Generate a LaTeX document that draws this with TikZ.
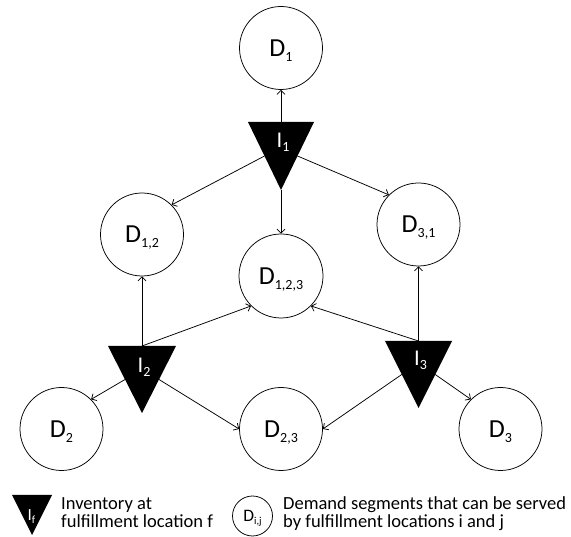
\documentclass[tikz,border=0pt]{standalone}
\usepackage{fontspec}
\setmainfont{Carlito}
\usetikzlibrary{arrows.meta}

% lowered, smaller subscript: #1 drop, #2 size, #3 text
\newcommand{\subs}[3]{\raisebox{-#1}{\fontsize{#2}{#2}\selectfont #3}}

% filled triangle pointing down; #1 name, (#2,#3) middle of top edge, #4 width, #5 height
\newcommand{\invtri}[5]{%
  \begin{scope}[shift={(#2,#3)}]
    \fill[black] (-#4/2,0) -- (#4/2,0) -- (0,#5) -- cycle;
    \coordinate (#1-top) at (0,0);
    \coordinate (#1-tip) at (0,#5);
    \coordinate (#1-left) at (-#4/4,#5/2);
    \coordinate (#1-right) at (#4/4,#5/2);
  \end{scope}}

\tikzset{
  demand/.style={circle, draw, line width=0.75pt, minimum size=83pt, inner sep=0pt,
    font=\fontsize{26}{26}\selectfont, text height=17pt, text depth=0pt},
  flow/.style={line width=0.75pt, -{Straight Barb[length=4pt,width=8pt]}},
  invlabel/.style={text=white, anchor=base, inner sep=0pt, font=\fontsize{22.5}{22.5}\selectfont},
  legendtext/.style={anchor=base west, inner sep=0pt, font=\fontsize{18.5}{18.5}\selectfont},
}

\begin{document}
\begin{tikzpicture}[x=1pt, y=-1pt]
\useasboundingbox (0,0) rectangle (571,537);

% demand segments
\node[demand] (D1)   at (281,48)    {D\subs{5pt}{14}{1}};
\node[demand] (D12)  at (142,234.5) {D\subs{5pt}{14}{1,2}};
\node[demand] (D31)  at (418.5,224.5) {D\subs{5pt}{14}{3,1}};
\node[demand, minimum size=84pt] (D123) at (281,276) {D\subs{5pt}{14}{1,2,3}};
\node[demand] (D2)   at (61.5,429)  {D\subs{5pt}{14}{2}};
\node[demand] (D23)  at (281,429)   {D\subs{5pt}{14}{2,3}};
\node[demand] (D3)   at (500.5,429) {D\subs{5pt}{14}{3}};

% inventory locations
\invtri{I1}{281}{122}{66}{68}
\invtri{I2}{142}{346}{68}{67}
\invtri{I3}{418.5}{341}{67}{67}
\node[invlabel] (I1lab) at (283,148) {I\subs{4pt}{14}{1}};
\node[invlabel] (I2lab) at (144,373) {I\subs{4pt}{14}{2}};
\node[invlabel] (I3lab) at (420.5,366) {I\subs{4pt}{14}{3}};

% flows from inventory to demand
\draw[flow] (I1-top)   -- (D1.south);
\draw[flow] (I1-left)  -- (D12.north east);
\draw[flow] (I1-right) -- (D31.north west);
\draw[flow] (I1-tip)   -- (D123.north);
\draw[flow] (I2-top)   -- (D12.south);
\draw[flow] (I2-top)   -- (D123.south west);
\draw[flow] (I2-left)  -- (D2.north east);
\draw[flow] (I2-right) -- (D23.west);
\draw[flow] (I3-top)   -- (D31.south);
\draw[flow] (I3-top)   -- (D123.south east);
\draw[flow] (I3-left)  -- (D23.east);
\draw[flow] (I3-right) -- (D3.north west);

% legend
\invtri{If}{32}{495}{40}{40}
\node[invlabel, font=\fontsize{17}{17}\selectfont] (Iflab) at (31.5,521) {I\subs{3pt}{11}{f}};
\node[legendtext] (inv1) at (61,510) {Inventory at};
\node[legendtext] (inv2) at (61,528) {fulfillment location f};
\node[demand, minimum size=40pt, font=\fontsize{17.5}{17.5}\selectfont, text height=11pt] (Dij) at (252.5,516) {D\subs{3pt}{10.5}{i,j}};
\node[legendtext] (dem1) at (283,510) {Demand segments that can be served};
\node[legendtext] (dem2) at (283,528) {by fulfillment locations i and j};
\end{tikzpicture}
\end{document}
